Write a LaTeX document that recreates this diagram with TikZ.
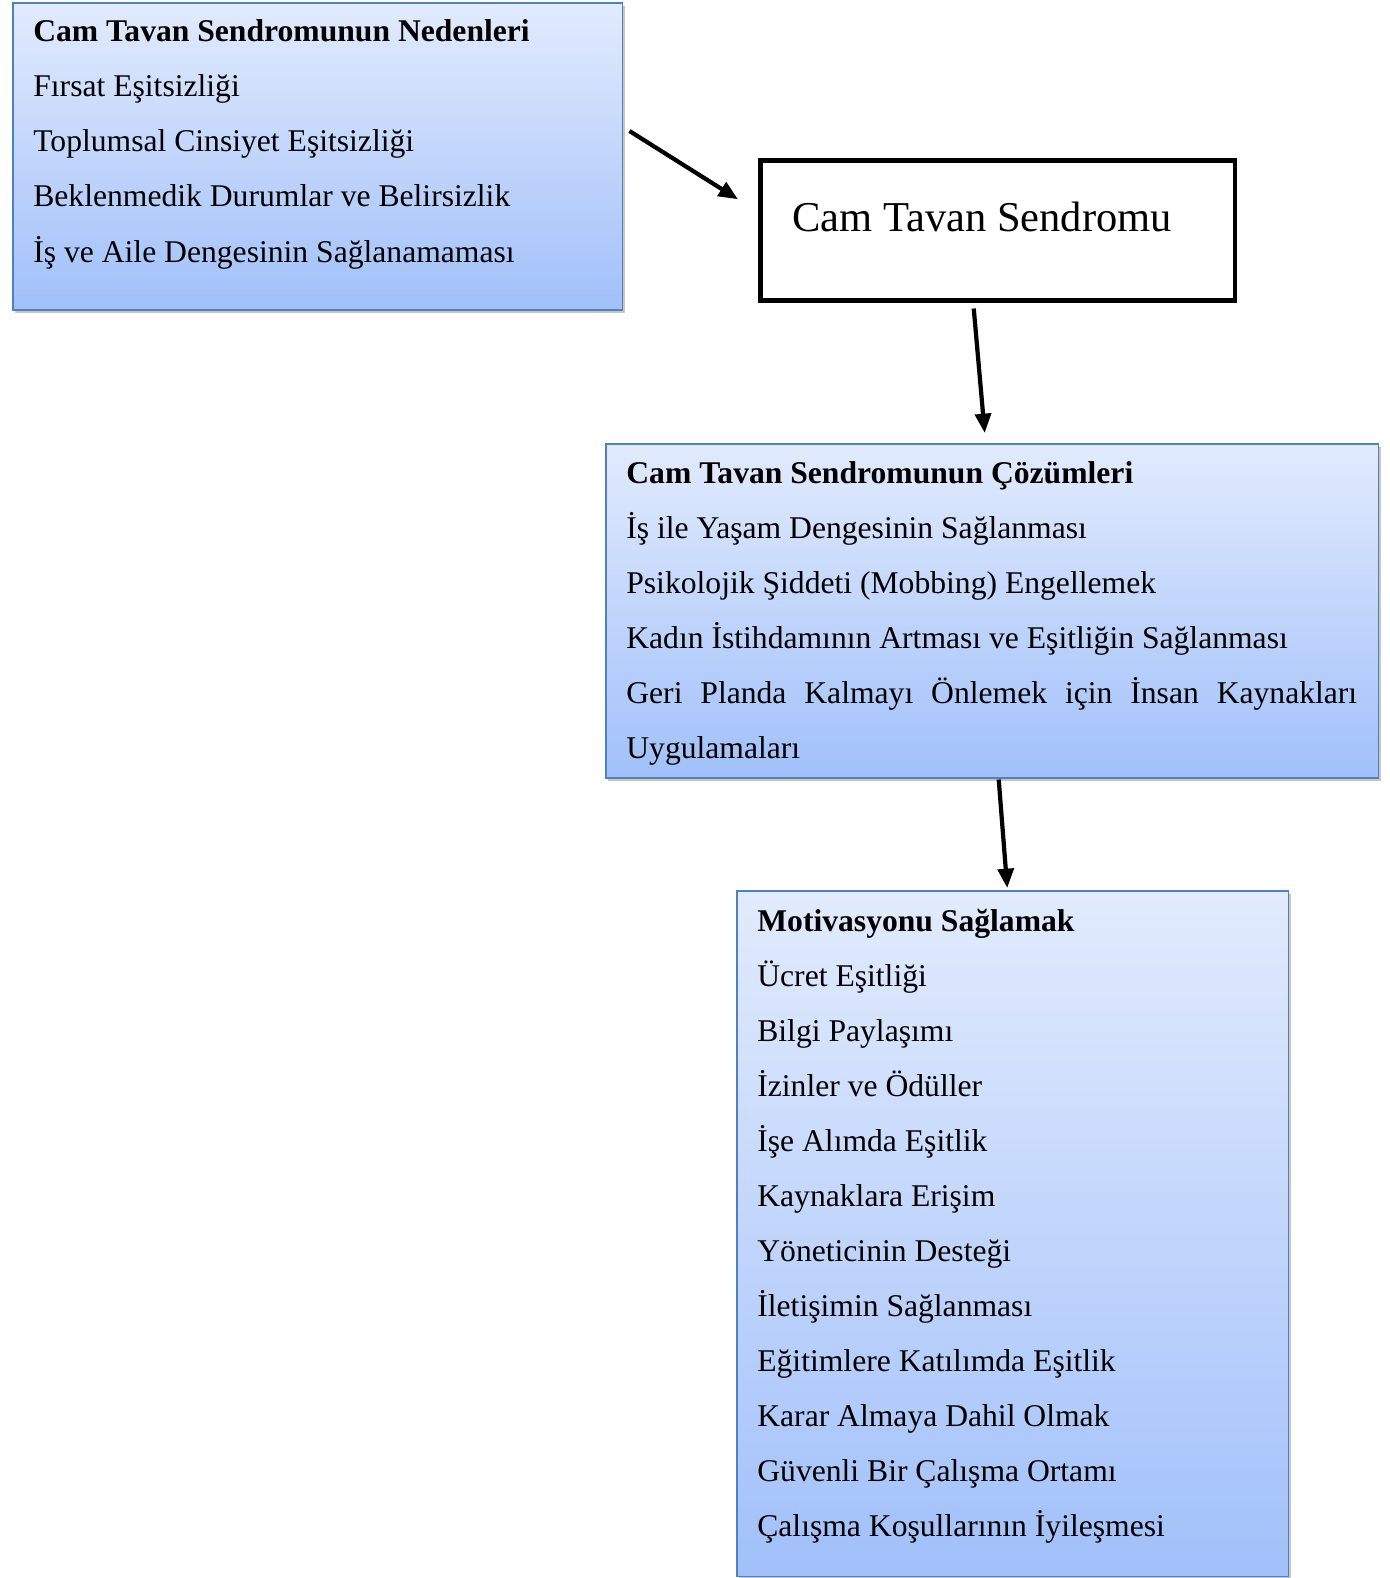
\documentclass[tikz,border=0pt]{standalone}
\usepackage{fontspec}
\setmainfont{Liberation Serif}
\usetikzlibrary{arrows.meta,calc,shadows}

\definecolor{boxtop}{RGB}{226,235,253}
\definecolor{boxbot}{RGB}{161,192,250}
\definecolor{boxline}{RGB}{79,129,189}

\tikzset{
  listbox/.style={draw=boxline, line width=0.9pt, top color=boxtop, bottom color=boxbot,
    anchor=north west, inner sep=0pt,
    drop shadow={shadow xshift=1.2pt, shadow yshift=-2pt, opacity=0.45}},
  mainbox/.style={draw=black, line width=2.6pt, anchor=north west, inner sep=0pt},
  item/.style={anchor=base west, inner sep=0pt, font=\fontsize{18}{22}\selectfont},
  head/.style={item, font=\fontsize{18}{22}\selectfont\bfseries},
  flow/.style={line width=2.4pt, -{Triangle[length=11pt,width=9pt]}}
}

\begin{document}
\begin{tikzpicture}[x=0.02cm, y=-0.02cm]
    \useasboundingbox (0,0) rectangle (1389,1578);
    % boxes
    \node[listbox, minimum width=12.2cm, minimum height=6.14cm] (causes) at (12,2) {};
    \node[mainbox, minimum width=9.5cm, minimum height=2.8cm] (syndrome) at (758,158) {};
    \node[listbox, minimum width=15.46cm, minimum height=6.68cm] (solutions) at (605,443) {};
    \node[listbox, minimum width=11.04cm, minimum height=13.72cm] (motivation) at (736,890) {};
    % causes
    \node[head] (c0) at (33,42) {Cam Tavan Sendromunun Nedenleri};
    \foreach \t [count=\i] in {Fırsat Eşitsizliği, Toplumsal Cinsiyet Eşitsizliği,
        Beklenmedik Durumlar ve Belirsizlik, İş ve Aile Dengesinin Sağlanamaması}
      \node[item] (c\i) at (33,{42+55*\i}) {\t};
    % syndrome
    \node[item, font=\fontsize{24.2}{28}\selectfont] (title) at (792,232) {Cam Tavan Sendromu};
    % solutions
    \node[head] (s0) at (626,483) {Cam Tavan Sendromunun Çözümleri};
    \foreach \t [count=\i] in {İş ile Yaşam Dengesinin Sağlanması,
        Psikolojik Şiddeti (Mobbing) Engellemek,
        Kadın İstihdamının Artması ve Eşitliğin Sağlanması,
        {\makebox[14.62cm][s]{Geri Planda Kalmayı Önlemek için İnsan Kaynakları}},
        Uygulamaları}
      \node[item] (s\i) at (626,{483+55*\i}) {\t};
    % motivation
    \node[head] (m0) at (757,931) {Motivasyonu Sağlamak};
    \foreach \t [count=\i] in {Ücret Eşitliği, Bilgi Paylaşımı, İzinler ve Ödüller,
        İşe Alımda Eşitlik, Kaynaklara Erişim, Yöneticinin Desteği,
        İletişimin Sağlanması, Eğitimlere Katılımda Eşitlik, Karar Almaya Dahil Olmak,
        Güvenli Bir Çalışma Ortamı, Çalışma Koşullarının İyileşmesi}
      \node[item] (m\i) at (757,{931+55*\i}) {\t};
    % arrows
    \draw[flow] ($(causes.north east)+(6,129)$) -- ($(syndrome.west)+(-20,-31)$);
    \draw[flow] ($(syndrome.south)+(-24,6)$) -- ($(solutions.north)+(-7.5,-10)$);
    \draw[flow] ($(solutions.south)+(6.5,1)$) -- ($(motivation.north)+(-5.5,-2)$);
\end{tikzpicture}
\end{document}
